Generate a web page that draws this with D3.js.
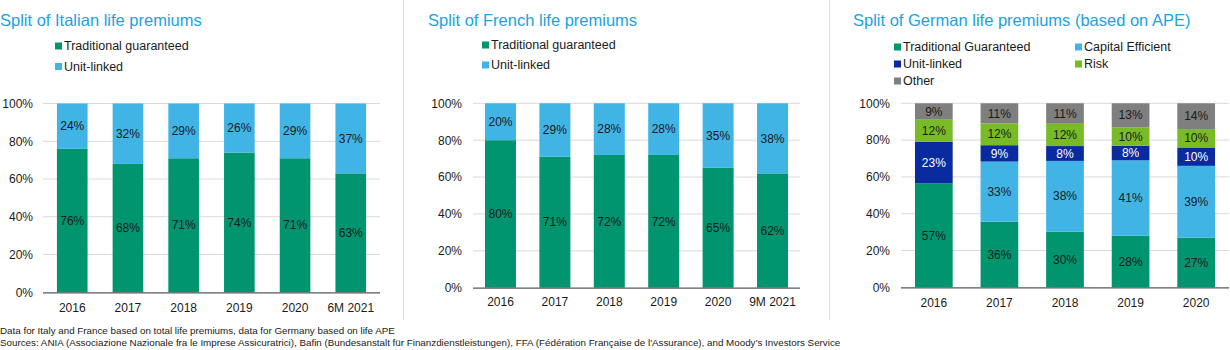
<!DOCTYPE html>
<html>
<head>
<meta charset="utf-8">
<script src="https://cdn.jsdelivr.net/npm/d3@7"></script>
<style>
  html, body { margin: 0; padding: 0; background: #ffffff; }
  svg { display: block; font-family: "Liberation Sans", Arial, sans-serif; }
</style>
</head>
<body>
<svg id="chart" width="1230" height="350"></svg>
<script>
// ---------------- DATA ----------------
const italyCategories = ["2016", "2017", "2018", "2019", "2020", "6M 2021"];
const italyTraditional = [76, 68, 71, 74, 71, 63];
const italyUnitLinked = [24, 32, 29, 26, 29, 37];

const franceCategories = ["2016", "2017", "2018", "2019", "2020", "9M 2021"];
const franceTraditional = [80, 71, 72, 72, 65, 62];
const franceUnitLinked = [20, 29, 28, 28, 35, 38];

const germanyCategories = ["2016", "2017", "2018", "2019", "2020"];
const germanyTraditional = [57, 36, 30, 28, 27];
const germanyCapitalEfficient = [0, 33, 38, 41, 39];
const germanyUnitLinked = [23, 9, 8, 8, 10];
const germanyRisk = [12, 12, 12, 10, 10];
const germanyOther = [9, 11, 11, 13, 14];

const yTickValues = [0, 0.2, 0.4, 0.6, 0.8, 1.0];

const titles = [
  "Split of Italian life premiums",
  "Split of French life premiums",
  "Split of German life premiums (based on APE)"
];
const footnotes = [
  "Data for Italy and France based on total life premiums, data for Germany based on life APE",
  "Sources: ANIA (Associazione Nazionale fra le Imprese Assicuratrici), Bafin (Bundesanstalt f\u00fcr Finanzdienstleistungen), FFA (F\u00e9d\u00e9ration Fran\u00e7aise de l'Assurance), and Moody\u2019s Investors Service"
];

// ---------------- STYLE ----------------
const COL = {
  green: "#00956f",
  light: "#41b4e6",
  dark: "#0a2b9f",
  lime: "#79bb26",
  gray: "#7f7f7f",
  title: "#1ba3e0",
  grid: "#d9d9d9",
  axis: "#595959",
  text: "#1a1a1a"
};

const svg = d3.select("#chart");

function buildRows(categories, seriesList) {
  return categories.map((c, i) => {
    const row = { cat: c };
    seriesList.forEach(s => { row[s.key] = s.values[i]; });
    return row;
  });
}

function drawPanel(cfg) {
  const g = svg.append("g");
  const keys = cfg.series.map(s => s.key);
  const rows = buildRows(cfg.categories, cfg.series);
  const stack = d3.stack().keys(keys).offset(d3.stackOffsetExpand);
  const layers = stack(rows);

  const x = d3.scaleBand().domain(cfg.categories)
    .range([cfg.x0, cfg.x1]).paddingInner(cfg.padIn).paddingOuter(cfg.padOut);
  const y = d3.scaleLinear().domain([0, 1]).range([cfg.yBottom, cfg.yTop]);

  // title
  g.append("text").attr("x", cfg.titleX).attr("y", 26)
    .attr("font-size", 16.5).attr("fill", COL.title).text(cfg.title);

  // legend
  cfg.series.forEach((s, i) => {
    const col = i % cfg.legendCols;
    const row = Math.floor(i / cfg.legendCols);
    const lx = cfg.legendX + col * cfg.legendColW;
    const ly = cfg.legendY + row * cfg.legendRowH;
    g.append("rect").attr("x", lx).attr("y", ly - 3.5).attr("width", 7).attr("height", 7)
      .attr("fill", s.color);
    g.append("text").attr("x", lx + 9).attr("y", ly).attr("dy", "0.35em")
      .attr("font-size", 12.5).attr("fill", COL.text).text(s.name);
  });

  // gridlines
  g.append("g").selectAll("line").data(yTickValues.filter(v => v > 0)).join("line")
    .attr("x1", cfg.x0).attr("x2", cfg.x1)
    .attr("y1", d => y(d)).attr("y2", d => y(d))
    .attr("stroke", COL.grid).attr("stroke-width", 1);

  // y axis labels
  const yAxis = d3.axisLeft(y).tickValues(yTickValues).tickFormat(d3.format(".0%"))
    .tickSize(0).tickPadding(0);
  const ya = g.append("g").attr("transform", `translate(${cfg.yLabelX},0)`).call(yAxis);
  ya.select(".domain").remove();
  ya.selectAll("text").attr("font-size", 12).attr("fill", COL.text)
    .attr("font-family", "Liberation Sans, Arial, sans-serif");

  // bars
  layers.forEach((layer, li) => {
    const s = cfg.series[li];
    g.append("g").selectAll("rect").data(layer).join("rect")
      .attr("x", d => x(d.data.cat))
      .attr("width", x.bandwidth())
      .attr("y", d => y(d[1]))
      .attr("height", d => Math.max(0, y(d[0]) - y(d[1])))
      .attr("fill", s.color);
    g.append("g").selectAll("text").data(layer.filter(d => d.data[s.key] > 0)).join("text")
      .attr("x", d => x(d.data.cat) + x.bandwidth() / 2)
      .attr("y", d => y((d[0] + d[1]) / 2))
      .attr("dy", "0.35em")
      .attr("text-anchor", "middle")
      .attr("font-size", 12)
      .attr("fill", s.labelColor)
      .text(d => d.data[s.key] + "%");
  });

  // x axis
  const xAxis = d3.axisBottom(x).tickSize(0).tickPadding(0);
  const xa = g.append("g").attr("transform", `translate(0,${cfg.yBottom})`).call(xAxis);
  xa.select(".domain").attr("stroke", COL.axis).attr("stroke-width", 1.2)
    .attr("d", `M${cfg.x0},0.5H${cfg.x1}`);
  xa.selectAll("text").attr("font-size", 12).attr("fill", COL.text)
    .attr("font-family", "Liberation Sans, Arial, sans-serif")
    .attr("dy", null).attr("y", cfg.xLabelBase - cfg.yBottom);
}

drawPanel({
  title: titles[0], titleX: 0,
  categories: italyCategories,
  series: [
    { key: "trad", name: "Traditional guaranteed", values: italyTraditional, color: COL.green, labelColor: COL.text },
    { key: "ul", name: "Unit-linked", values: italyUnitLinked, color: COL.light, labelColor: COL.text }
  ],
  x0: 43, x1: 380, padIn: 0.45, padOut: 0.25,
  yTop: 103.5, yBottom: 292.3, yLabelX: 33, xLabelBase: 312.5,
  legendX: 55, legendY: 46, legendCols: 1, legendColW: 0, legendRowH: 20.5
});

drawPanel({
  title: titles[1], titleX: 428,
  categories: franceCategories,
  series: [
    { key: "trad", name: "Traditional guaranteed", values: franceTraditional, color: COL.green, labelColor: COL.text },
    { key: "ul", name: "Unit-linked", values: franceUnitLinked, color: COL.light, labelColor: COL.text }
  ],
  x0: 473, x1: 800, padIn: 0.43, padOut: 0.22,
  yTop: 103.3, yBottom: 287.7, yLabelX: 462, xLabelBase: 306.5,
  legendX: 482, legendY: 45, legendCols: 1, legendColW: 0, legendRowH: 20
});

drawPanel({
  title: titles[2], titleX: 853,
  categories: germanyCategories,
  series: [
    { key: "trad", name: "Traditional Guaranteed", values: germanyTraditional, color: COL.green, labelColor: COL.text },
    { key: "ce", name: "Capital Efficient", values: germanyCapitalEfficient, color: COL.light, labelColor: COL.text },
    { key: "ul", name: "Unit-linked", values: germanyUnitLinked, color: COL.dark, labelColor: "#ffffff" },
    { key: "risk", name: "Risk", values: germanyRisk, color: COL.lime, labelColor: COL.text },
    { key: "other", name: "Other", values: germanyOther, color: COL.gray, labelColor: COL.text }
  ],
  x0: 901, x1: 1229, padIn: 0.425, padOut: 0.213,
  yTop: 103.3, yBottom: 287.3, yLabelX: 890, xLabelBase: 307,
  legendX: 894, legendY: 47, legendCols: 2, legendColW: 181, legendRowH: 17
});

// separators
svg.append("g").selectAll("line").data([403.5, 829.5]).join("line")
  .attr("x1", d => d).attr("x2", d => d).attr("y1", 0).attr("y2", 320)
  .attr("stroke", "#dedede").attr("stroke-width", 1);

// footnotes
svg.append("g").selectAll("text").data(footnotes).join("text")
  .attr("x", 0).attr("y", (d, i) => 333.5 + i * 12.5)
  .attr("font-size", 9.8).attr("fill", COL.text)
  .text(d => d);
</script>
</body>
</html>
